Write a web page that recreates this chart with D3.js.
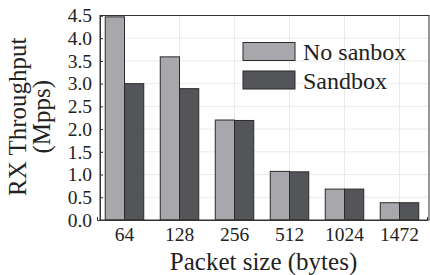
<!DOCTYPE html>
<html>
<head>
<meta charset="utf-8">
<script src="https://cdn.jsdelivr.net/npm/d3@7"></script>
<style>
  body { margin: 0; background: #fff; }
</style>
</head>
<body>
<div id="chart-container"></div>
<script>
// grouped bars - RX throughput vs packet size
const packetSizes = ["64", "128", "256", "512", "1024", "1472"];
const noSandbox = [4.47, 3.59, 2.2, 1.07, 0.68, 0.38];
const sandbox = [3.0, 2.89, 2.19, 1.06, 0.68, 0.38];
const seriesNames = ["No sanbox", "Sandbox"];
const yTicks = [0, 0.5, 1, 1.5, 2, 2.5, 3, 3.5, 4, 4.5];

const serif = "'Liberation Serif', 'Times New Roman', Times, 'DejaVu Serif', serif";

const svgWidth = 430;
const svgHeight = 275;
const margin = { top: 15.5, right: 1, bottom: 55, left: 100 };
const width = svgWidth - margin.left - margin.right;
const height = svgHeight - margin.top - margin.bottom;

const colors = ["#a8a8ac", "#545558"];

const svg = d3.select("#chart-container")
    .append("svg")
    .attr("width", svgWidth)
    .attr("height", svgHeight)
    .style("font-family", serif);

const chart = svg.append("g")
    .attr("transform", `translate(${margin.left},${margin.top})`);

const scaleX = d3.scaleBand()
    .domain(packetSizes)
    .range([-3, width - 2])
    .paddingInner(0.3)
    .paddingOuter(0.15);

const scaleSeries = d3.scaleBand()
    .domain(seriesNames)
    .range([0, scaleX.bandwidth()]);

const scaleY = d3.scaleLinear()
    .domain([0, 4.5])
    .range([height, 0]);

// grid
chart.append("g")
    .selectAll("line")
    .data(yTicks.slice(1, -1))
    .enter()
    .append("line")
    .attr("x1", 0)
    .attr("x2", width)
    .attr("y1", d => scaleY(d))
    .attr("y2", d => scaleY(d))
    .attr("stroke", "#ebebeb");

chart.append("g")
    .selectAll("line")
    .data(packetSizes)
    .enter()
    .append("line")
    .attr("x1", d => scaleX(d) + scaleX.bandwidth() / 2)
    .attr("x2", d => scaleX(d) + scaleX.bandwidth() / 2)
    .attr("y1", 0)
    .attr("y2", height)
    .attr("stroke", "#ebebeb");

// bars
const rows = packetSizes.map((p, i) => ({ size: p, values: [noSandbox[i], sandbox[i]] }));

chart.selectAll(".group")
    .data(rows)
    .enter()
    .append("g")
    .attr("transform", d => `translate(${scaleX(d.size)},0)`)
    .selectAll("rect")
    .data(d => d.values.map((v, j) => ({ name: seriesNames[j], value: v, idx: j })))
    .enter()
    .append("rect")
    .attr("x", d => scaleSeries(d.name))
    .attr("y", d => scaleY(d.value))
    .attr("width", scaleSeries.bandwidth())
    .attr("height", d => height - scaleY(d.value))
    .attr("fill", d => colors[d.idx])
    .attr("stroke", "#2a2a2a")
    .attr("stroke-width", 1);

// frame
chart.append("rect")
    .attr("x", 0)
    .attr("y", 0)
    .attr("width", width)
    .attr("height", height)
    .attr("fill", "none")
    .attr("stroke", "#333")
    .attr("stroke-width", 1);

// axes
const xAxis = chart.append("g")
    .attr("transform", `translate(0,${height})`)
    .call(d3.axisBottom(scaleX).tickSize(-3).tickPadding(7));

const yAxis = chart.append("g")
    .call(d3.axisLeft(scaleY).tickValues(yTicks).tickFormat(d3.format(".1f")).tickSize(-3).tickPadding(8));

[xAxis, yAxis].forEach(g => {
    g.attr("font-family", null).attr("font-size", null);
    g.select(".domain").attr("stroke", "#333");
    g.selectAll(".tick line").attr("stroke", "#333");
    g.selectAll("text")
        .style("font-family", serif)
        .style("font-size", "19.5px")
        .attr("fill", "#222");
});

// titles
chart.append("text")
    .attr("x", width / 2 - 1)
    .attr("y", height + 50)
    .attr("text-anchor", "middle")
    .style("font-size", "25px")
    .attr("fill", "#222")
    .text("Packet size (bytes)");

const yTitle = chart.append("text")
    .attr("transform", "rotate(-90)")
    .attr("text-anchor", "middle")
    .style("font-size", "25px")
    .attr("fill", "#222");
yTitle.append("tspan")
    .attr("x", -height / 2 + 1)
    .attr("y", -74)
    .text("RX Throughput");
yTitle.append("tspan")
    .attr("x", -height / 2 + 1)
    .attr("y", -50)
    .text("(Mpps)");

// legend
const legend = chart.append("g")
    .attr("transform", "translate(143,27)");

legend.selectAll("rect")
    .data(seriesNames)
    .enter()
    .append("rect")
    .attr("x", 0)
    .attr("y", (d, i) => i * 28.5)
    .attr("width", 52)
    .attr("height", 18)
    .attr("fill", (d, i) => colors[i])
    .attr("stroke", "#2a2a2a");

legend.selectAll("text")
    .data(seriesNames)
    .enter()
    .append("text")
    .attr("x", 60)
    .attr("y", (d, i) => i * 29.5 + 17)
    .style("font-size", "24px")
    .attr("fill", "#222")
    .text(d => d);
</script>
</body>
</html>
